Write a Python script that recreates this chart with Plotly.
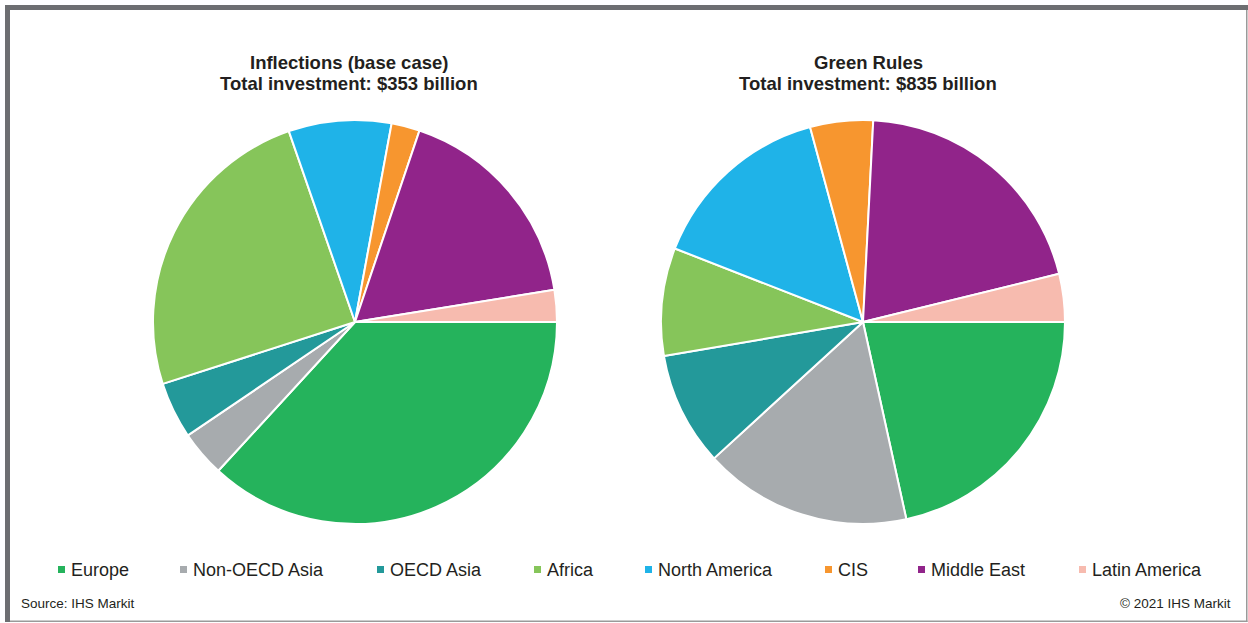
import plotly.graph_objects as go

regions = ["Europe", "Non-OECD Asia", "OECD Asia", "Africa", "North America",
           "CIS", "Middle East", "Latin America"]
inflections_values = [130, 13, 16, 87, 29, 8, 61, 9]       # $ billion, total 353
green_rules_values = [180, 139, 76, 72, 124, 42, 170, 32]  # $ billion, total 835
colors = ["#25B35C", "#A7ABAE", "#23999A", "#86C55A", "#1FB3E8",
          "#F7962F", "#91248A", "#F7BBAF"]
title_lines = [["Inflections (base case)", "Total investment: $353 billion"],
               ["Green Rules", "Total investment: $835 billion"]]

W, H = 1248, 623
FONT = "Arial, 'Liberation Sans', sans-serif"
TXT = "#231F20"

# layout positions (pixels)
legend_square_x = [58, 180, 377, 534, 645, 825, 918, 1079]
legend_y = 569.5
title_centers = [348.5, 868]


def px_dom(x0, x1, y0, y1):
    return dict(x=[x0 / W, x1 / W], y=[1 - y1 / H, 1 - y0 / H])


def px(x, y):
    return x / W, 1 - y / H


fig = go.Figure()
for vals, dom, name in [(inflections_values, px_dom(153, 557, 120, 524), "Inflections"),
                        (green_rules_values, px_dom(661, 1065, 120, 524), "Green Rules")]:
    fig.add_trace(go.Pie(
        labels=regions, values=vals, sort=False, direction="clockwise",
        rotation=90, textinfo="none", hoverinfo="label+value+percent",
        marker=dict(colors=colors, line=dict(color="white", width=2)),
        domain=dom, showlegend=False, name=name))

annotations = []
shapes = []

# titles
for cx, lines in zip(title_centers, title_lines):
    for ly, line in zip([62, 83], lines):
        x, y = px(cx, ly)
        annotations.append(dict(text=f"<b>{line}</b>", x=x, y=y, xref="paper", yref="paper",
                                xanchor="center", yanchor="middle", showarrow=False,
                                font=dict(size=18.5, color=TXT, family=FONT)))

# legend (squares + labels)
for sx, lab, col in zip(legend_square_x, regions, colors):
    x0, y0 = px(sx, legend_y + 3.5)
    x1, y1 = px(sx + 7, legend_y - 3.5)
    shapes.append(dict(type="rect", xref="paper", yref="paper", x0=x0, x1=x1, y0=y0, y1=y1,
                       fillcolor=col, line=dict(width=0)))
    tx, ty = px(sx + 11, legend_y)
    annotations.append(dict(text=lab, x=tx, y=ty, xref="paper", yref="paper",
                            xanchor="left", yanchor="middle", showarrow=False,
                            font=dict(size=18, color=TXT, family=FONT)))

# source / copyright
sx, sy = px(19, 603)
annotations.append(dict(text="Source: IHS Markit", x=sx, y=sy, xref="paper", yref="paper",
                        xanchor="left", yanchor="middle", showarrow=False,
                        font=dict(size=13.5, color=TXT, family=FONT)))
cx, cy = px(1233, 603)
annotations.append(dict(text="© 2021 IHS Markit", x=cx, y=cy, xref="paper", yref="paper",
                        xanchor="right", yanchor="middle", showarrow=False,
                        font=dict(size=13.5, color=TXT, family=FONT)))

# frame: thick dark top and left, thin grey right and bottom
shapes += [
    dict(type="rect", xref="paper", yref="paper", x0=5 / W, x1=1, y0=1 - 10 / H, y1=1 - 5 / H,
         fillcolor="#6D6E71", line=dict(width=0)),
    dict(type="rect", xref="paper", yref="paper", x0=5 / W, x1=10 / W, y0=1 - 622 / H, y1=1 - 5 / H,
         fillcolor="#6D6E71", line=dict(width=0)),
    dict(type="rect", xref="paper", yref="paper", x0=1246 / W, x1=1247.5 / W, y0=1 - 622 / H, y1=1 - 10 / H,
         fillcolor="#9A9A9A", line=dict(width=0)),
    dict(type="rect", xref="paper", yref="paper", x0=10 / W, x1=1247.5 / W, y0=1 - 622 / H, y1=1 - 620.5 / H,
         fillcolor="#9A9A9A", line=dict(width=0)),
]

fig.update_layout(
    width=W, height=H, margin=dict(l=0, r=0, t=0, b=0, pad=0),
    paper_bgcolor="white", plot_bgcolor="white",
    font=dict(family=FONT, color=TXT),
    annotations=annotations, shapes=shapes, showlegend=False,
)

fig.write_html("out.html", config={"displayModeBar": False},
               post_script="document.body.style.margin='0';document.body.style.overflow='hidden';")
